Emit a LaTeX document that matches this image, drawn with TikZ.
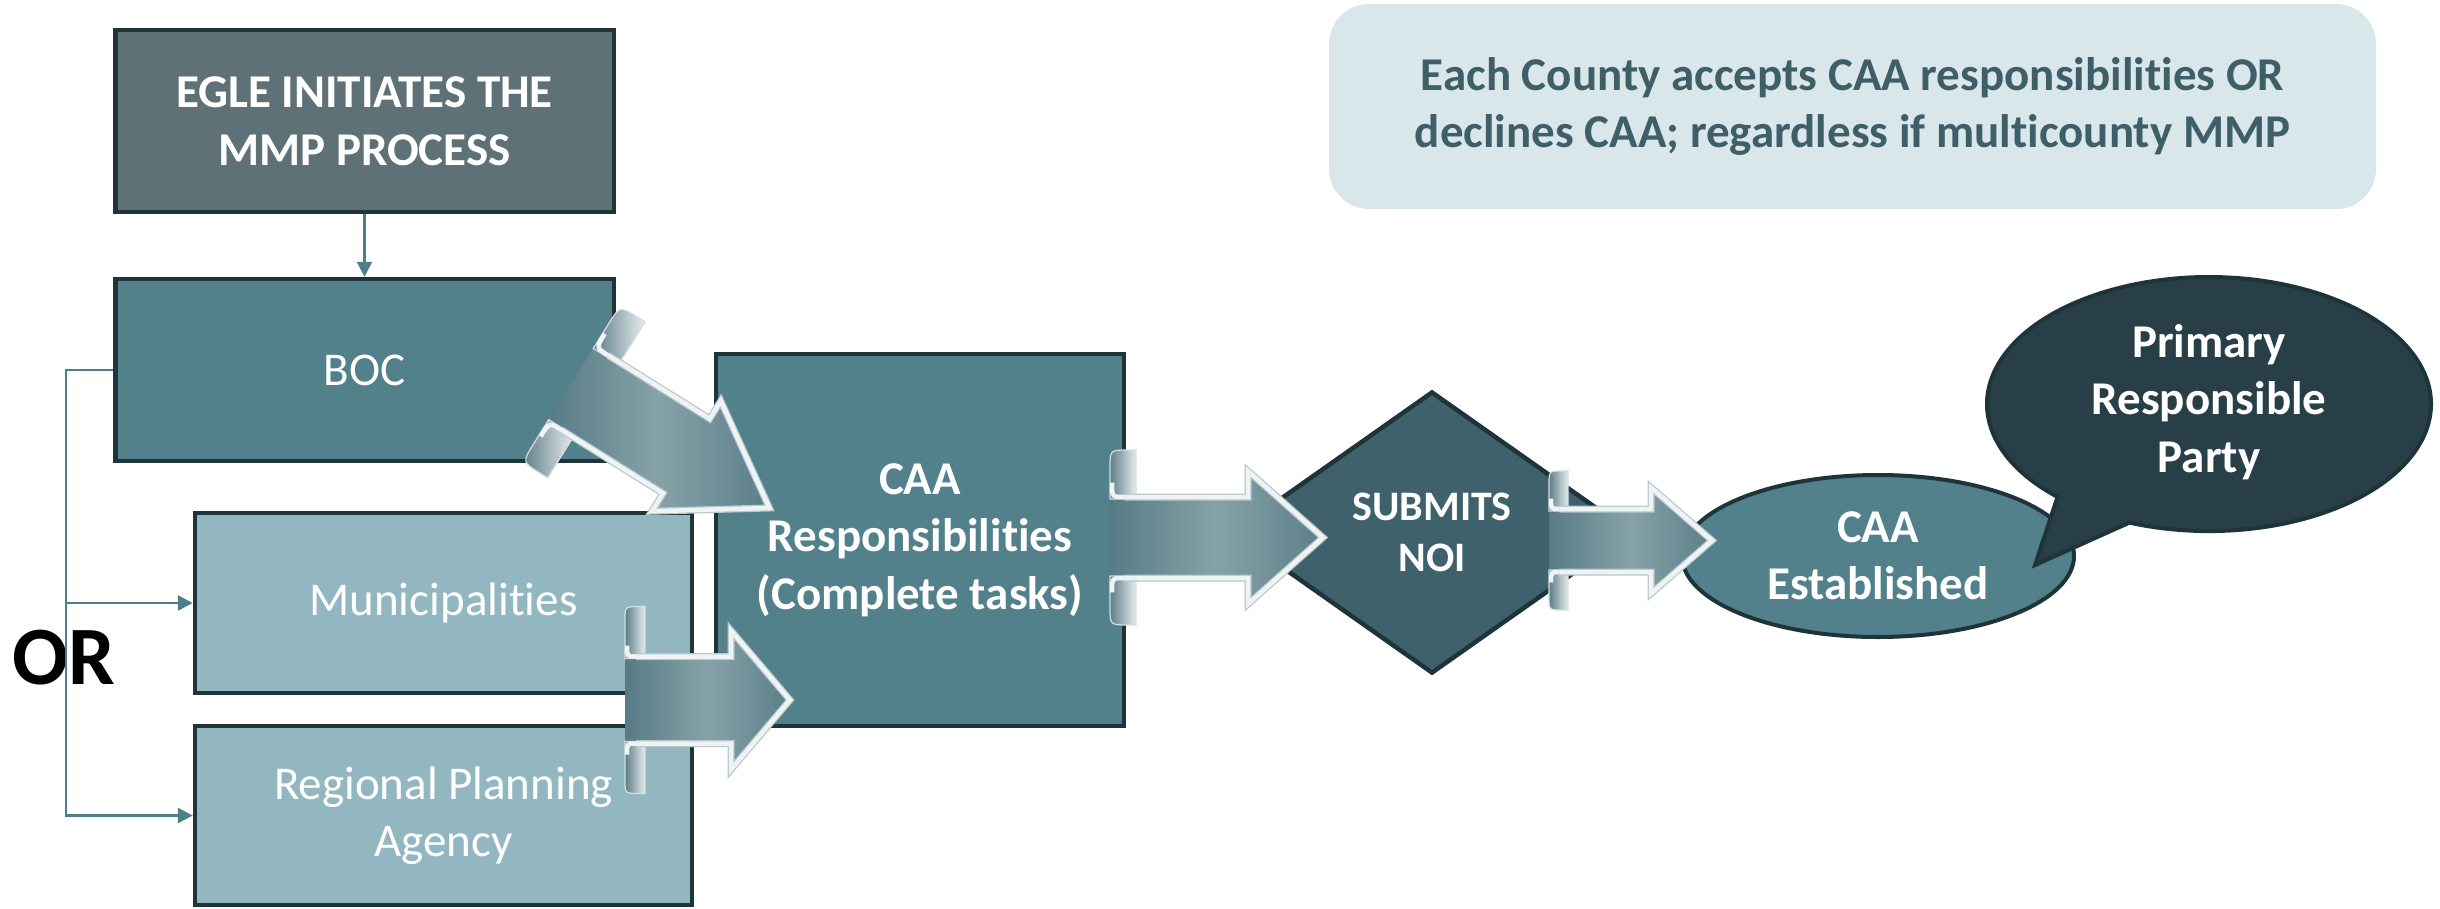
\documentclass[tikz,border=0pt]{standalone}
\usepackage{fontspec}
\setmainfont[Ligatures=NoCommon]{Carlito}
\usetikzlibrary{shapes.geometric,arrows.meta}
\definecolor{eglefill}{HTML}{5E7177}
\definecolor{bocfill}{HTML}{52808B}
\definecolor{lightfill}{HTML}{93B7C0}
\definecolor{noifill}{HTML}{3E616B}
\definecolor{callfill}{HTML}{283F47}
\definecolor{bordercol}{HTML}{1F3439}
\definecolor{conncol}{HTML}{4E7E89}
\definecolor{notefill}{HTML}{D9E6EA}
\definecolor{notetext}{HTML}{3E5F68}
\definecolor{arrdark}{HTML}{577B85}
\definecolor{arrdarkb}{HTML}{5C7E88}
\definecolor{arrlight}{HTML}{86A2A9}
\definecolor{tabdark}{HTML}{5E7D86}
\definecolor{tablight}{HTML}{E6EDEF}
\definecolor{tabedge}{HTML}{D5DEE1}
\definecolor{arrwhite}{HTML}{EEF3F4}
\definecolor{arrshadow}{HTML}{B9C7CB}
\newcommand\fancyarr[8]{%
  \shade[left color=arrdark, right color=arrdarkb, middle color=arrlight]
    (#1,{#2-#3}) -- (#4,{#2-#3}) -- (#4,{#2-#6}) -- (#5,#2) -- (#4,{#2+#6}) -- (#4,{#2+#3}) -- (#1,{#2+#3}) -- cycle;
  \shade[left color=tabdark, right color=tablight, draw=tabedge, line width=1.2pt]
    ({#1+#7},{#2-#3+2}) -- ({#1+#7},{#2-#3-#8}) -- ({#1+0.7*#7},{#2-#3-#8})
    .. controls (#1,{#2-#3-#8}) .. (#1,{#2-#3-#8+0.7*#7}) -- (#1,{#2-#3+2}) -- cycle;
  \shade[left color=tabdark, right color=tablight, draw=tabedge, line width=1.2pt]
    ({#1+#7},{#2+#3-2}) -- ({#1+#7},{#2+#3+#8}) -- ({#1+0.7*#7},{#2+#3+#8})
    .. controls (#1,{#2+#3+#8}) .. (#1,{#2+#3+#8-0.7*#7}) -- (#1,{#2+#3-2}) -- cycle;
  \draw[arrshade] ({#1+0.55*#7},{#2-#3}) -- (#4,{#2-#3}) -- (#4,{#2-#6}) -- (#5,#2) -- (#4,{#2+#6}) -- (#4,{#2+#3}) -- ({#1+0.55*#7},{#2+#3});
  \draw[arrline] ({#1+0.55*#7},{#2-#3}) -- (#4,{#2-#3}) -- (#4,{#2-#6}) -- (#5,#2) -- (#4,{#2+#6}) -- (#4,{#2+#3}) -- ({#1+0.55*#7},{#2+#3});
  \draw[arrline] ({#1+0.55*#7},{#2-#3}) .. controls ({#1+2},{#2-#3}) .. ({#1+2},{#2-#3-0.55*#7});
  \draw[arrline] ({#1+0.55*#7},{#2+#3}) .. controls ({#1+2},{#2+#3}) .. ({#1+2},{#2+#3+0.55*#7});
}
\begin{document}
\begin{tikzpicture}[x=1pt,y=-1pt,
  box/.style={draw=bordercol, line width=4.5pt, inner sep=0pt, align=center, text=white},
  reg/.style={font=\fontsize{47}{57.5}\selectfont},
  bld/.style={font=\bfseries\fontsize{47}{57.5}\selectfont},
  conn/.style={draw=conncol, line width=2.5pt, -{Triangle[length=15pt,width=15pt]}},
  arrline/.style={draw=arrwhite, line width=4.5pt, line join=miter},
  arrshade/.style={draw=arrshadow, line width=7pt, line join=miter}]
\useasboundingbox (0,0) rectangle (2440,908);
% note
\node[fill=notefill, rounded corners=40pt, minimum width=1047pt, minimum height=205pt,
      text=notetext, bld, align=center, inner sep=0pt] (note) at (1852.5,106.5)
  {Each County accepts CAA responsibilities OR\\declines CAA; regardless if multicounty MMP};
% boxes
\node[box, bld, fill=eglefill, minimum width=498.5pt, minimum height=182pt] (egle) at (364.5,121) {EGLE INITIATES THE\\MMP PROCESS};
\node[box, reg, fill=bocfill, minimum width=498.5pt, minimum height=182pt] (boc) at (364.5,370) {BOC};
\node[box, reg, fill=lightfill, minimum width=497pt, minimum height=180pt] (muni) at (443.5,603) {Municipalities};
\node[box, reg, fill=lightfill, minimum width=497pt, minimum height=179pt] (rpa) at (443.5,815.5) {Regional Planning\\Agency};
\node[box, bld, fill=bocfill, minimum width=408pt, minimum height=372pt] (caa) at (920,540) {CAA\\Responsibilities\\(Complete tasks)};
\node[box, diamond, fill=noifill, minimum width=400pt, minimum height=282pt,
      font=\bfseries\fontsize{42}{51}\selectfont] (noi) at (1432,532.5) {SUBMITS\\NOI};
\node[box, ellipse, bld, fill=bocfill, line width=4pt, minimum width=392pt, minimum height=162pt] (est) at (1878,556) {CAA\\Established};
% callout
\coordinate (ptip) at (2035,565);
\filldraw[fill=callfill, draw=bordercol, line width=4pt]
  (2129.4,522.6) arc[start angle=111, end angle=-227, x radius=222, y radius=127] -- (ptip) -- cycle;
\node[bld, text=white, align=center, inner sep=0pt] (prp) at (2209,402) {Primary\\Responsible\\Party};
% OR
\node[font=\bfseries\fontsize{83}{90}\selectfont, inner sep=0pt] (ortext) at (64,658) {OR};
% connectors
\draw[conn] (egle.south) -- (boc.north);
\coordinate (spine) at (66,370);
\coordinate (jn) at (66,603);
\draw[conn] (boc.west) -- (spine) |- (rpa.west);
\draw[conn] (jn) -- (muni.west);
% block arrows
\begin{scope}[shift={(571,384)}, rotate=-32]
  \fancyarr{0}{0}{44}{136}{234}{65}{30}{48}
\end{scope}
\fancyarr{625}{700}{43.5}{731}{790}{69.5}{20}{50}
\fancyarr{1110}{537.5}{40.5}{1248}{1323}{66.5}{26}{47}
\fancyarr{1549}{540.5}{31.5}{1651}{1712}{53}{19}{38}
\end{tikzpicture}
\end{document}
